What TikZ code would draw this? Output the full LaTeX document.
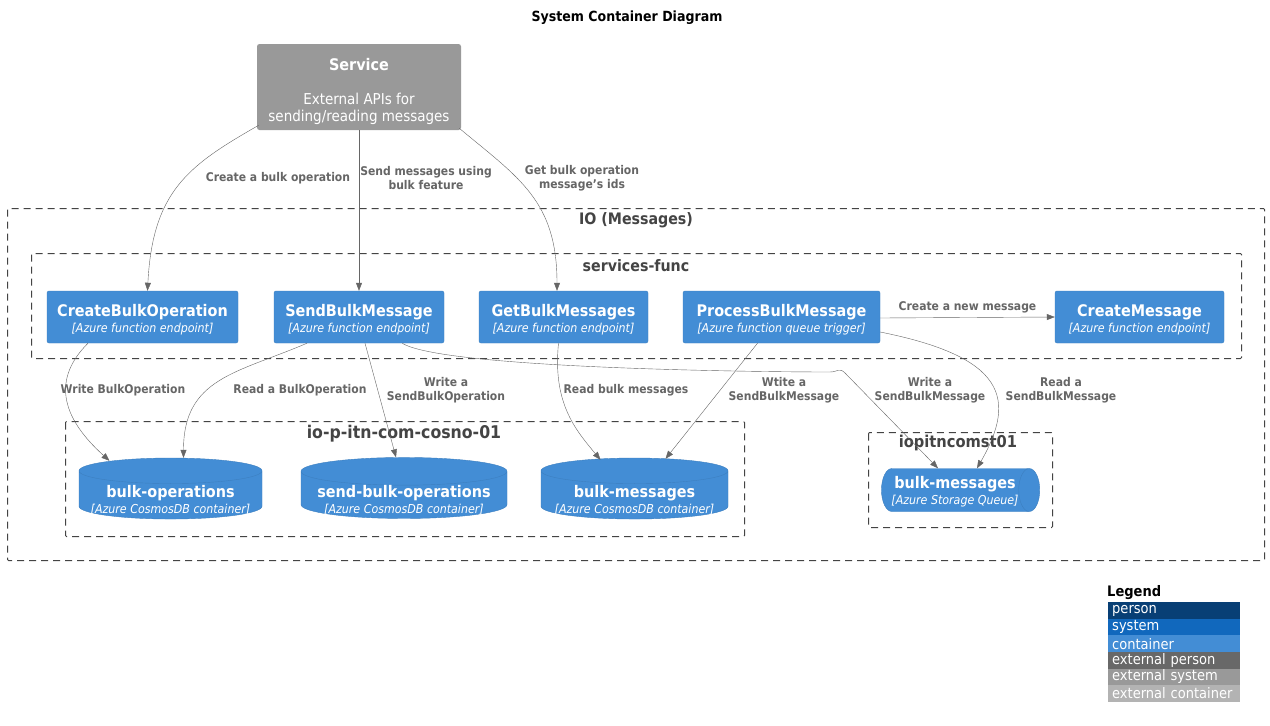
\documentclass[tikz,border=0pt]{standalone}
\usepackage{fontspec}
\setmainfont{DejaVu Sans Condensed}
\usetikzlibrary{arrows.meta}
\usetikzlibrary{positioning, calc}
\usetikzlibrary{shapes.geometric}

\definecolor{contblue}{HTML}{438DD5}
\definecolor{contedge}{HTML}{3C7FC0}
\definecolor{extgray}{HTML}{999999}
\definecolor{linegray}{HTML}{666666}
\definecolor{titlegray}{HTML}{444444}

% name, technology, vertical shift of the text
\newcommand{\elemtext}[3]{\raisebox{#3}[0pt][0pt]{\begin{tabular}{@{}c@{}}{\fontsize{16}{18}\selectfont\bfseries #1}\\[3pt]{\fontsize{12.3}{14}\selectfont\itshape [#2]}\end{tabular}}}

\begin{document}
\begin{tikzpicture}[
    x=1pt, y=-1pt,
    cont/.style={fill=contblue, draw=contedge, text=white, rounded corners=2pt, minimum height=52, inner sep=0pt},
    db/.style={cylinder, shape border rotate=90, aspect=0.16, fill=contblue, draw=contedge, text=white, minimum height=61, inner sep=0pt},
    queue/.style={cylinder, shape border rotate=0, aspect=0.5, fill=contblue, draw=contedge, text=white, minimum height=150, minimum width=43, inner xsep=0pt, inner ysep=21pt},
    boundary/.style={draw=titlegray, line width=1pt, dash pattern=on 7pt off 5pt, rounded corners=1pt},
    btitle/.style={text=titlegray, font=\fontsize{15.8}{18}\selectfont\bfseries},
    lbl/.style={text=linegray, font=\fontsize{12}{14}\selectfont\bfseries, align=center, inner sep=1pt},
    rel/.style={linegray, -{Triangle[length=8pt, width=6pt]}},
    leg/.style={minimum width=132, minimum height=16.6, inner sep=0pt, text=white, anchor=north west, text width=124, font=\fontsize{14.5}{15}\selectfont}
]
    \useasboundingbox[fill=white] (0,0) rectangle (1270,726);

    \node[font=\fontsize{14}{16}\selectfont\bfseries] (title) at (627,18) {System Container Diagram};

    % Boundaries:
    \draw[boundary] (7.5,208.5) rectangle (1264.5,560.5);
    \node[btitle] (iotitle) at (636,220) {IO (Messages)};
    \draw[boundary] (31.5,253.5) rectangle (1241.5,358.5);
    \node[btitle] (sftitle) at (636,266) {services-func};
    \draw[boundary] (65.5,421.5) rectangle (744.5,536.5);
    \node[btitle, font=\fontsize{17.5}{19}\selectfont\bfseries] (cosnotitle) at (404,434) {io-p-itn-com-cosno-01};
    \draw[boundary] (868.5,432.5) rectangle (1052.5,527.5);
    \node[btitle, font=\fontsize{16.3}{18}\selectfont\bfseries] (sttitle) at (958,443) {iopitncomst01};

    % External service:
    \node[fill=extgray, text=white, rounded corners=2.5pt, minimum width=204, minimum height=86, inner sep=0pt, font=\fontsize{15}{17}\selectfont] (service) at (359,87)
        {\raisebox{-9.25pt}[0pt][0pt]{\begin{tabular}{@{}c@{}}{\fontsize{16}{18}\selectfont\bfseries Service}\\[17pt]External APIs for\\sending/reading messages\end{tabular}}};

    % Functions:
    \node[cont, minimum width=191] (cbo) at (142.5,317) {\elemtext{CreateBulkOperation}{Azure function endpoint}{-5.5pt}};
    \node[cont, minimum width=170] (sbm) at (359,317) {\elemtext{SendBulkMessage}{Azure function endpoint}{-5.5pt}};
    \node[cont, minimum width=169] (gbm) at (563.5,317) {\elemtext{GetBulkMessages}{Azure function endpoint}{-5.5pt}};
    \node[cont, minimum width=197] (pbm) at (781.5,317) {\elemtext{ProcessBulkMessage}{Azure function queue trigger}{-5.5pt}};
    \node[cont, minimum width=169] (cm) at (1139.5,317) {\elemtext{CreateMessage}{Azure function endpoint}{-5.5pt}};

    % Storage:
    \node[db, minimum width=183] (bops) at (170.5,495) {\elemtext{bulk-operations}{Azure CosmosDB container}{-8.5pt}};
    \node[db, minimum width=206] (sbops) at (404,495) {\elemtext{send-bulk-operations}{Azure CosmosDB container}{-8.5pt}};
    \node[db, minimum width=187] (bmsg) at (634.5,495) {\elemtext{bulk-messages}{Azure CosmosDB container}{-8.5pt}};
    \node[queue] (bqueue) at (950,490) {\hspace{10pt}\elemtext{bulk-messages}{Azure Storage Queue}{-4.3pt}};

    % Relations from the service:
    \draw[rel] ($(service.south west)+(2,-5)$) .. controls +(-70,40) and +(5,-100) .. ($(cbo.north)+(5,0)$);
    \node[lbl] (l1) at (278,178) {Create a bulk operation};
    \draw[rel] (service.south) -- (sbm.north);
    \node[lbl] (l2) at (426,178) {Send messages using\\bulk feature};
    \draw[rel] ($(service.south east)+(-2,-2)$) .. controls +(60,50) and +(0,-90) .. ($(gbm.north)+(-6.5,0)$);
    \node[lbl] (l3) at (582,178) {Get bulk operation\\message's ids};

    \draw[rel] ($(pbm.east)+(0,1)$) -- (cm.west) node[lbl, midway, above=3pt] (l4) {Create a new message};

    % Relations to storage:
    \draw[rel] ($(cbo.south)+(-54.5,0)$) .. controls +(-35,35) and +(-50,-45) .. ($(bops.north)+(-61,3)$);
    \node[lbl] (l5) at (123,390) {Write BulkOperation};
    \draw[rel] ($(sbm.south)+(-52,0)$) .. controls +(-70,30) and +(0,-80) .. ($(bops.north)+(13,0)$);
    \node[lbl] (l6) at (300,390) {Read a BulkOperation};
    \draw[rel] ($(sbm.south)+(6,0)$) -- ($(sbops.north)+(-8,0)$);
    \node[lbl] (l7) at (446,390) {Write a\\SendBulkOperation};
    \draw[rel] ($(gbm.south)+(-5,0)$) .. controls +(-6,60) and +(-25,-30) .. ($(bmsg.north)+(-34,2)$);
    \node[lbl] (l8) at (626,390) {Read bulk messages};
    \draw[rel] ($(pbm.south)+(-24,0)$) -- ($(bmsg.north)+(31,1)$);
    \node[lbl] (l9) at (784,390) {Wtite a\\SendBulkMessage};

    \coordinate (bend) at (845,373);
    \draw[rel] ($(sbm.south east)+(-42,0)$) .. controls +(40,25) and +(-80,0) .. ($(bend)+(-15,-1)$) .. controls +(8,0) and +(-6,-6) .. (bend) -- ($(bqueue.north)+(-12,0)$);
    \node[lbl] (l10) at (930,390) {Write a\\SendBulkMessage};
    \draw[rel] ($(pbm.east)+(0,15)$) .. controls +(125,25) and +(40,-70) .. ($(bqueue.north)+(27,0)$);
    \node[lbl] (l11) at (1061,390) {Read a\\SendBulkMessage};

    % Legend:
    \node[font=\fontsize{14.5}{16}\selectfont\bfseries, anchor=south west, inner sep=0pt] (legend) at (1107,600) {Legend};
    \foreach \c/\t [count=\i from 0] in {083F75/person, 1168BD/system, 438DD5/container, 686868/external person, 999999/external system, B3B3B3/external container} {
        \definecolor{legc}{HTML}{\c}
        \node[leg, fill=legc] (leg\i) at (1108,602+16.6*\i) {\t};
    }
\end{tikzpicture}
\end{document}
